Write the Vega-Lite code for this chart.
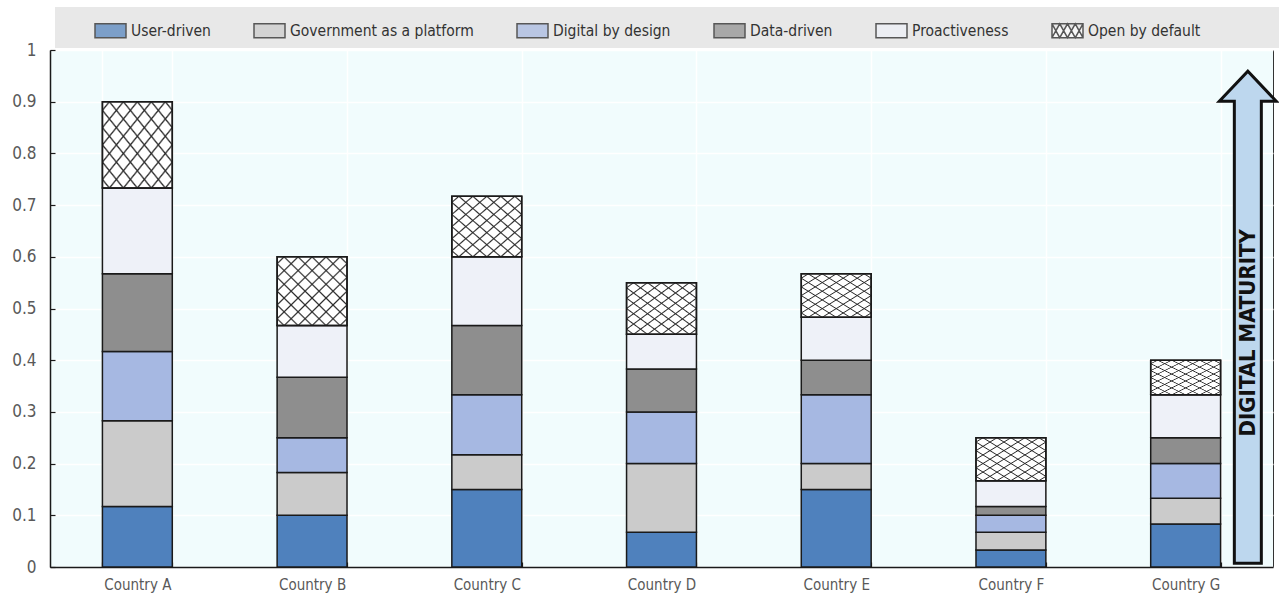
{
  "$schema": "https://vega.github.io/schema/vega-lite/v6.json",
  "autosize": "none",
  "width": 1223,
  "height": 517,
  "padding": {"left": 50, "top": 50, "right": 6, "bottom": 37},
  "config": {
    "view": {"fill": "#f1fcfd", "stroke": "#333333", "strokeWidth": 1},
    "font": "DejaVu Sans Condensed"
  },
  "layer": [
    {
      "data": {
        "values": [
          {"country": "Country A", "category": "User-driven", "k": 1, "value": 0.117},
          {"country": "Country A", "category": "Government as a platform", "k": 2, "value": 0.166},
          {"country": "Country A", "category": "Digital by design", "k": 3, "value": 0.134},
          {"country": "Country A", "category": "Data-driven", "k": 4, "value": 0.15},
          {"country": "Country A", "category": "Proactiveness", "k": 5, "value": 0.166},
          {"country": "Country A", "category": "Open by default", "k": 6, "value": 0.167},
          {"country": "Country B", "category": "User-driven", "k": 1, "value": 0.1},
          {"country": "Country B", "category": "Government as a platform", "k": 2, "value": 0.083},
          {"country": "Country B", "category": "Digital by design", "k": 3, "value": 0.067},
          {"country": "Country B", "category": "Data-driven", "k": 4, "value": 0.117},
          {"country": "Country B", "category": "Proactiveness", "k": 5, "value": 0.1},
          {"country": "Country B", "category": "Open by default", "k": 6, "value": 0.133},
          {"country": "Country C", "category": "User-driven", "k": 1, "value": 0.15},
          {"country": "Country C", "category": "Government as a platform", "k": 2, "value": 0.067},
          {"country": "Country C", "category": "Digital by design", "k": 3, "value": 0.116},
          {"country": "Country C", "category": "Data-driven", "k": 4, "value": 0.134},
          {"country": "Country C", "category": "Proactiveness", "k": 5, "value": 0.133},
          {"country": "Country C", "category": "Open by default", "k": 6, "value": 0.117},
          {"country": "Country D", "category": "User-driven", "k": 1, "value": 0.067},
          {"country": "Country D", "category": "Government as a platform", "k": 2, "value": 0.133},
          {"country": "Country D", "category": "Digital by design", "k": 3, "value": 0.1},
          {"country": "Country D", "category": "Data-driven", "k": 4, "value": 0.083},
          {"country": "Country D", "category": "Proactiveness", "k": 5, "value": 0.067},
          {"country": "Country D", "category": "Open by default", "k": 6, "value": 0.1},
          {"country": "Country E", "category": "User-driven", "k": 1, "value": 0.15},
          {"country": "Country E", "category": "Government as a platform", "k": 2, "value": 0.05},
          {"country": "Country E", "category": "Digital by design", "k": 3, "value": 0.133},
          {"country": "Country E", "category": "Data-driven", "k": 4, "value": 0.067},
          {"country": "Country E", "category": "Proactiveness", "k": 5, "value": 0.083},
          {"country": "Country E", "category": "Open by default", "k": 6, "value": 0.084},
          {"country": "Country F", "category": "User-driven", "k": 1, "value": 0.033},
          {"country": "Country F", "category": "Government as a platform", "k": 2, "value": 0.034},
          {"country": "Country F", "category": "Digital by design", "k": 3, "value": 0.033},
          {"country": "Country F", "category": "Data-driven", "k": 4, "value": 0.017},
          {"country": "Country F", "category": "Proactiveness", "k": 5, "value": 0.05},
          {"country": "Country F", "category": "Open by default", "k": 6, "value": 0.083},
          {"country": "Country G", "category": "User-driven", "k": 1, "value": 0.083},
          {"country": "Country G", "category": "Government as a platform", "k": 2, "value": 0.05},
          {"country": "Country G", "category": "Digital by design", "k": 3, "value": 0.067},
          {"country": "Country G", "category": "Data-driven", "k": 4, "value": 0.05},
          {"country": "Country G", "category": "Proactiveness", "k": 5, "value": 0.083},
          {"country": "Country G", "category": "Open by default", "k": 6, "value": 0.067}
        ]
      },
      "transform": [
        {"stack": "value", "groupby": ["country"], "sort": [{"field": "k", "order": "ascending"}], "as": ["y0", "y1"]}
      ],
      "layer": [
        {
          "mark": {"type": "point", "filled": true, "size": 1, "stroke": "#1a1a1a", "strokeWidth": 1.5},
          "encoding": {
            "x": {
              "field": "country", "type": "nominal", "scale": {"type": "band", "paddingInner": 0.6, "paddingOuter": 0.3},
              "axis": {
                "title": null, "labelAngle": 0, "tickBand": "extent", "grid": true, "gridColor": "#ffffff", "gridWidth": 1.5,
                "domainColor": "#1a1a1a", "domainWidth": 1.5, "tickColor": "#1a1a1a", "tickWidth": 1.2, "tickSize": -5,
                "labelFont": "DejaVu Sans Condensed", "labelFontSize": 15, "labelColor": "#595959", "labelPadding": 15
              }
            },
            "y": {
              "field": "y0", "type": "quantitative", "scale": {"domain": [0, 1], "nice": false},
              "axis": {
                "title": null, "values": [0, 0.1, 0.2, 0.3, 0.4, 0.5, 0.6, 0.7, 0.8, 0.9, 1], "format": "~g",
                "grid": true, "gridColor": "#ffffff", "gridWidth": 1.5,
                "domainColor": "#1a1a1a", "domainWidth": 1.5, "tickColor": "#1a1a1a", "tickWidth": 1.2, "tickSize": -5,
                "labelFont": "DejaVu Sans Condensed", "labelFontSize": 17, "labelColor": "#595959", "labelPadding": 19
              }
            },
            "color": {
              "field": "category", "type": "nominal",
              "scale": {
                "domain": ["User-driven", "Government as a platform", "Digital by design", "Data-driven", "Proactiveness", "Open by default"],
                "range": ["#4f81bd", "#cbcbcb", "#a6b8e2", "#8e8e8e", "#eef1f8", "#ffffff"]
              },
              "legend": {
                "orient": "none", "legendX": 5, "legendY": -43, "direction": "horizontal", "columns": 6,
                "fillColor": "#e8e8e8", "padding": 7,
                "symbolSize": 961, "symbolStrokeColor": "#1a1a1a", "symbolStrokeWidth": 1.5,
                "labelFont": "DejaVu Sans Condensed", "labelFontSize": 15.5, "labelColor": "#333333", "labelOffset": 4, "labelLimit": 600,
                "columnPadding": 40,
                "title": "\u2800", "titleOrient": "left", "titlePadding": 20, "titleFontSize": 16,
                "labelExpr": "datum.label == 'Open by default' ? datum.label + '\u2800\u2800\u2800\u2800\u2800\u2800\u2800\u2800' : datum.label"
              }
            },
            "shape": {
              "field": "category", "type": "nominal",
              "scale": {
                "domain": ["User-driven", "Government as a platform", "Digital by design", "Data-driven", "Proactiveness", "Open by default"],
                "range": [
                  "M-1,-0.45H1V0.45H-1Z",
                  "M-1,-0.45H1V0.45H-1Z",
                  "M-1,-0.45H1V0.45H-1Z",
                  "M-1,-0.45H1V0.45H-1Z",
                  "M-1,-0.45H1V0.45H-1Z",
                  "M-1,-0.45H1V0.45H-1Z M-1,-0.45L-0.5,0.45L0,-0.45L0.5,0.45L1,-0.45 M-1,0.45L-0.5,-0.45L0,0.45L0.5,-0.45L1,0.45"
                ]
              },
              "legend": {
                "orient": "none", "legendX": 5, "legendY": -43, "direction": "horizontal", "columns": 6,
                "fillColor": "#e8e8e8", "padding": 7,
                "symbolSize": 961, "symbolStrokeColor": "#1a1a1a", "symbolStrokeWidth": 1.5,
                "labelFont": "DejaVu Sans Condensed", "labelFontSize": 15.5, "labelColor": "#333333", "labelOffset": 4, "labelLimit": 600,
                "columnPadding": 40,
                "title": "\u2800", "titleOrient": "left", "titlePadding": 20, "titleFontSize": 16,
                "labelExpr": "datum.label == 'Open by default' ? datum.label + '\u2800\u2800\u2800\u2800\u2800\u2800\u2800\u2800' : datum.label"
              }
            }
          }
        },
        {
          "mark": {"type": "bar", "stroke": "#1a1a1a", "strokeWidth": 1.5},
          "encoding": {
            "x": {"field": "country", "type": "nominal"},
            "y": {"field": "y1", "type": "quantitative"},
            "y2": {"field": "y0"},
            "color": {"field": "category", "type": "nominal", "legend": null}
          }
        },
        {
          "transform": [{"filter": "datum.category == 'Open by default'"}],
          "mark": {
            "type": "bar", "strokeWidth": 0,
            "fill": {
              "gradient": "linear", "x1": 0, "y1": 0, "x2": 1, "y2": 1,
              "stops": [
                {"offset": 0, "color": "rgba(42,42,42,0)"},
                {"offset": 0.038, "color": "rgba(42,42,42,0)"}, {"offset": 0.05, "color": "rgba(42,42,42,1)"}, {"offset": 0.062, "color": "rgba(42,42,42,0)"},
                {"offset": 0.138, "color": "rgba(42,42,42,0)"}, {"offset": 0.15, "color": "rgba(42,42,42,1)"}, {"offset": 0.162, "color": "rgba(42,42,42,0)"},
                {"offset": 0.238, "color": "rgba(42,42,42,0)"}, {"offset": 0.25, "color": "rgba(42,42,42,1)"}, {"offset": 0.262, "color": "rgba(42,42,42,0)"},
                {"offset": 0.338, "color": "rgba(42,42,42,0)"}, {"offset": 0.35, "color": "rgba(42,42,42,1)"}, {"offset": 0.362, "color": "rgba(42,42,42,0)"},
                {"offset": 0.438, "color": "rgba(42,42,42,0)"}, {"offset": 0.45, "color": "rgba(42,42,42,1)"}, {"offset": 0.462, "color": "rgba(42,42,42,0)"},
                {"offset": 0.538, "color": "rgba(42,42,42,0)"}, {"offset": 0.55, "color": "rgba(42,42,42,1)"}, {"offset": 0.562, "color": "rgba(42,42,42,0)"},
                {"offset": 0.638, "color": "rgba(42,42,42,0)"}, {"offset": 0.65, "color": "rgba(42,42,42,1)"}, {"offset": 0.662, "color": "rgba(42,42,42,0)"},
                {"offset": 0.738, "color": "rgba(42,42,42,0)"}, {"offset": 0.75, "color": "rgba(42,42,42,1)"}, {"offset": 0.762, "color": "rgba(42,42,42,0)"},
                {"offset": 0.838, "color": "rgba(42,42,42,0)"}, {"offset": 0.85, "color": "rgba(42,42,42,1)"}, {"offset": 0.862, "color": "rgba(42,42,42,0)"},
                {"offset": 0.938, "color": "rgba(42,42,42,0)"}, {"offset": 0.95, "color": "rgba(42,42,42,1)"}, {"offset": 0.962, "color": "rgba(42,42,42,0)"},
                {"offset": 1, "color": "rgba(42,42,42,0)"}
              ]
            }
          },
          "encoding": {
            "x": {"field": "country", "type": "nominal"},
            "y": {"field": "y1", "type": "quantitative"},
            "y2": {"field": "y0"}
          }
        },
        {
          "transform": [{"filter": "datum.category == 'Open by default'"}],
          "mark": {
            "type": "bar", "stroke": "#1a1a1a", "strokeWidth": 1.5,
            "fill": {
              "gradient": "linear", "x1": 1, "y1": 0, "x2": 0, "y2": 1,
              "stops": [
                {"offset": 0, "color": "rgba(42,42,42,0)"},
                {"offset": 0.038, "color": "rgba(42,42,42,0)"}, {"offset": 0.05, "color": "rgba(42,42,42,1)"}, {"offset": 0.062, "color": "rgba(42,42,42,0)"},
                {"offset": 0.138, "color": "rgba(42,42,42,0)"}, {"offset": 0.15, "color": "rgba(42,42,42,1)"}, {"offset": 0.162, "color": "rgba(42,42,42,0)"},
                {"offset": 0.238, "color": "rgba(42,42,42,0)"}, {"offset": 0.25, "color": "rgba(42,42,42,1)"}, {"offset": 0.262, "color": "rgba(42,42,42,0)"},
                {"offset": 0.338, "color": "rgba(42,42,42,0)"}, {"offset": 0.35, "color": "rgba(42,42,42,1)"}, {"offset": 0.362, "color": "rgba(42,42,42,0)"},
                {"offset": 0.438, "color": "rgba(42,42,42,0)"}, {"offset": 0.45, "color": "rgba(42,42,42,1)"}, {"offset": 0.462, "color": "rgba(42,42,42,0)"},
                {"offset": 0.538, "color": "rgba(42,42,42,0)"}, {"offset": 0.55, "color": "rgba(42,42,42,1)"}, {"offset": 0.562, "color": "rgba(42,42,42,0)"},
                {"offset": 0.638, "color": "rgba(42,42,42,0)"}, {"offset": 0.65, "color": "rgba(42,42,42,1)"}, {"offset": 0.662, "color": "rgba(42,42,42,0)"},
                {"offset": 0.738, "color": "rgba(42,42,42,0)"}, {"offset": 0.75, "color": "rgba(42,42,42,1)"}, {"offset": 0.762, "color": "rgba(42,42,42,0)"},
                {"offset": 0.838, "color": "rgba(42,42,42,0)"}, {"offset": 0.85, "color": "rgba(42,42,42,1)"}, {"offset": 0.862, "color": "rgba(42,42,42,0)"},
                {"offset": 0.938, "color": "rgba(42,42,42,0)"}, {"offset": 0.95, "color": "rgba(42,42,42,1)"}, {"offset": 0.962, "color": "rgba(42,42,42,0)"},
                {"offset": 1, "color": "rgba(42,42,42,0)"}
              ]
            }
          },
          "encoding": {
            "x": {"field": "country", "type": "nominal"},
            "y": {"field": "y1", "type": "quantitative"},
            "y2": {"field": "y0"}
          }
        }
      ]
    },
    {
      "data": {"values": [{"country": "Country G", "arrowY": 0.483, "textY": 0.453, "label": "DIGITAL MATURITY"}]},
      "layer": [
        {
          "mark": {
            "type": "point", "filled": true, "fill": "#bdd7ee", "stroke": "#111111", "strokeWidth": 3, "opacity": 1, "size": 3600,
            "shape": "M-0.45,8.2L0.45,8.2L0.45,-7.2L0.95,-7.2L0,-8.2L-0.95,-7.2L-0.45,-7.2Z"
          },
          "encoding": {
            "x": {"field": "country", "type": "nominal", "bandPosition": 1.39},
            "y": {"field": "arrowY", "type": "quantitative"}
          }
        },
        {
          "mark": {"type": "text", "angle": 270, "align": "center", "baseline": "middle", "font": "DejaVu Sans Condensed", "fontWeight": "bold", "fontSize": 22, "color": "#111111"},
          "encoding": {
            "x": {"field": "country", "type": "nominal", "bandPosition": 1.39},
            "y": {"field": "textY", "type": "quantitative"},
            "text": {"field": "label"}
          }
        }
      ]
    }
  ]
}
